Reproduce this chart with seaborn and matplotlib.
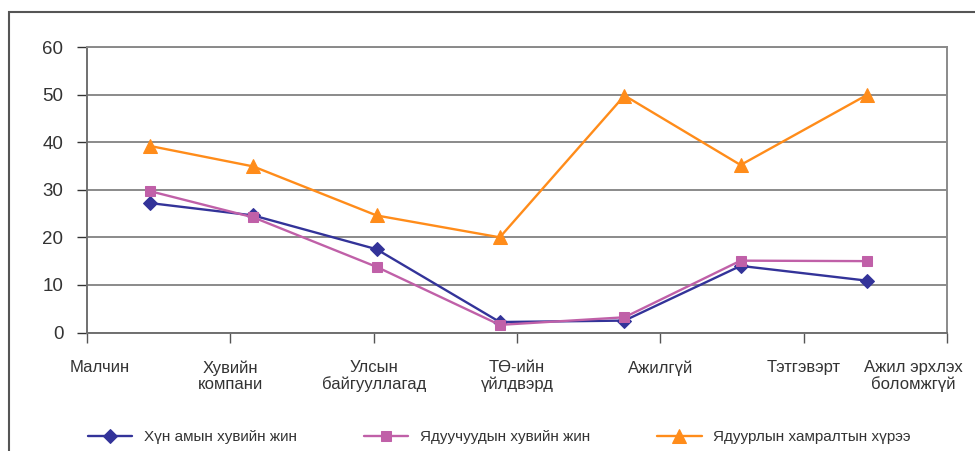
import matplotlib
matplotlib.use("Agg")
import matplotlib.pyplot as plt
import matplotlib.transforms as mtransforms
from matplotlib.patches import Rectangle
import pandas as pd
import seaborn as sns

# category labels on the x axis (at the ticks)
categories = ["Малчин", "Хувийн\nкомпани", "Улсын\nбайгууллагад", "ТӨ-ийн\nүйлдвэрд",
              "Ажилгүй", "Тэтгэвэрт", "Ажил эрхлэх\nболомжгүй"]
# where each data point sits along the category axis
point_pos = [0.44, 1.16, 2.02, 2.88, 3.75, 4.56, 5.44]

series_names = ["Хүн амын хувийн жин", "Ядуучуудын хувийн жин", "Ядуурлын хамралтын хүрээ"]
pop_share = [27.2, 24.6, 17.5, 2.2, 2.5, 14.0, 10.9]
poor_share = [29.7, 24.2, 13.8, 1.6, 3.2, 15.1, 15.0]
poverty_rate = [39.2, 34.9, 24.6, 20.0, 49.8, 35.2, 49.9]

colors = ["#333399", "#C060A8", "#FF8C1A"]
markers = ["D", "s", "^"]
msizes = [7, 7, 10]

df = pd.DataFrame({
    "pos": point_pos * 3,
    "value": pop_share + poor_share + poverty_rate,
    "series": [s for s in series_names for _ in point_pos],
})

sns.set_style("white")
plt.rcParams["font.family"] = ["Liberation Sans", "DejaVu Sans"]

fig = plt.figure(figsize=(9.75, 4.51), dpi=100)
ax = fig.add_axes([87 / 975, 1 - 332.5 / 451, (947 - 87) / 975, (332.5 - 47) / 451])

for name, c, m, ms in zip(series_names, colors, markers, msizes):
    sns.lineplot(data=df[df["series"] == name], x="pos", y="value", ax=ax,
                 color=c, marker=m, markersize=ms, markeredgecolor=c,
                 linewidth=1.7, label=name, legend=False)

ax.set_xlim(0, 6)
ax.set_ylim(0, 60)
ax.set_yticks(range(0, 61, 10))
ax.set_xticks(range(len(categories)))
ax.set_xticklabels(categories, fontsize=12, color="#333333", linespacing=1.1)
ax.tick_params(axis="y", labelsize=13.5, colors="#333333", length=7, width=1,
               direction="out", left=True, pad=10)
ax.tick_params(axis="x", length=7, width=1, direction="out", bottom=True,
               colors="#555555", pad=13)
for lab in ax.get_xticklabels():
    lab.set_color("#333333")
for lab in ax.get_yticklabels():
    lab.set_color("#333333")
ax.set_xlabel("")
ax.set_ylabel("")

ax.grid(axis="y", color="#8a8a8a", linewidth=1.4)
ax.grid(axis="x", visible=False)
ax.set_axisbelow(True)
for side, sp in ax.spines.items():
    sp.set_visible(True)
    sp.set_color("#8a8a8a")
    sp.set_linewidth(1.4)
ax.spines["left"].set_color("#707070")
ax.spines["bottom"].set_color("#707070")

# nudge first and last category labels like the original
labs = ax.get_xticklabels()
labs[0].set_transform(labs[0].get_transform() + mtransforms.ScaledTranslation(13 / 100, 0, fig.dpi_scale_trans))
labs[-1].set_transform(labs[-1].get_transform() + mtransforms.ScaledTranslation(-34 / 100, 0, fig.dpi_scale_trans))

handles, labels = ax.get_legend_handles_labels()
fig.legend(handles, labels, loc="center left", bbox_to_anchor=(88 / 975, 1 - 437 / 451),
           ncol=3, frameon=False, fontsize=11, columnspacing=4.4, handlelength=2.9,
           handletextpad=0.75, labelcolor="#333333", borderpad=0, borderaxespad=0)

# outer chart frame
fig.patches.append(Rectangle((9 / 975, -0.05), 1.1, 1 - 12 / 451 + 0.05,
                             transform=fig.transFigure, fill=False,
                             edgecolor="#555555", linewidth=1.5))

fig.savefig("out.png", dpi=100)
